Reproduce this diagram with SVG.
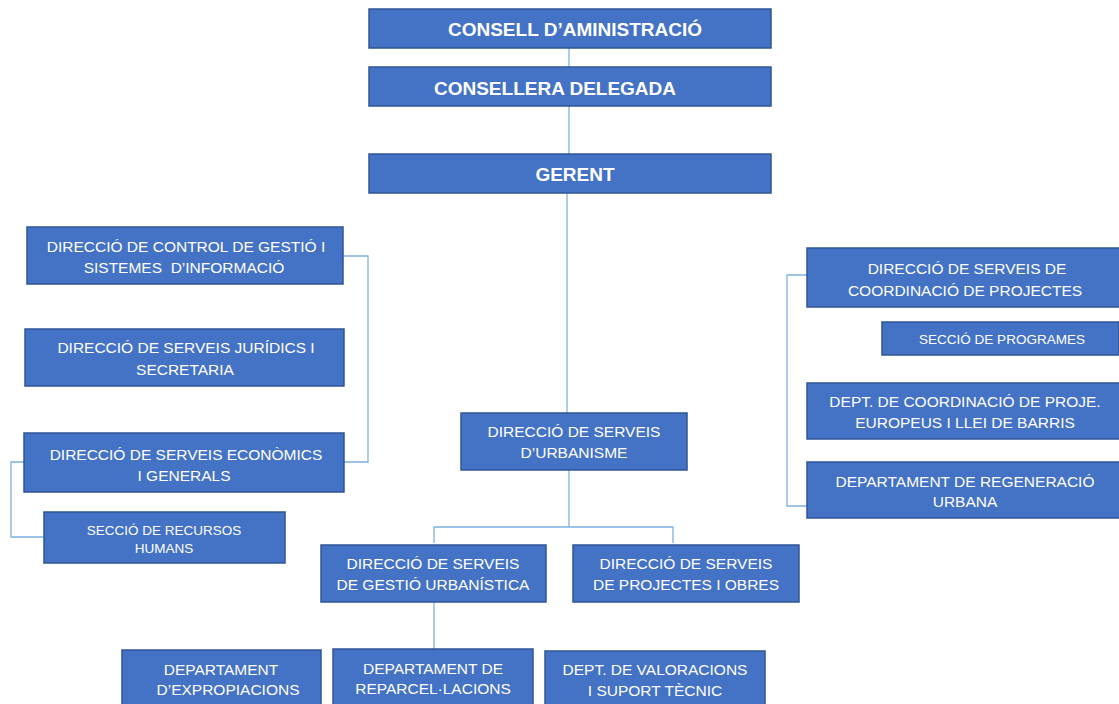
<svg xmlns="http://www.w3.org/2000/svg" width="1119" height="704" viewBox="0 0 1119 704">
<style>
.b{fill:#4472C4;stroke:#2F5597;stroke-width:1.5}
.t{fill:#fff;font-family:"Liberation Sans",Arial,sans-serif;font-size:15.5px;text-anchor:middle}
.h{font-weight:bold;font-size:19px}
.s{font-size:13.5px}
.c{fill:none;stroke:#7EB0E0;stroke-width:1.3}
</style>
<rect width="1119" height="704" fill="#fff"/>
<g id="connectors">
<path class="c" d="M569 48V67"/>
<path class="c" d="M569 106V154"/>
<path class="c" d="M567 193V413"/>
<path class="c" d="M343 256H368V462H344"/>
<path class="c" d="M24 462H11V537H44"/>
<path class="c" d="M807 275H787V506H807"/>
<path class="c" d="M569 470V527"/>
<path class="c" d="M434 543V527H673V543"/>
<path class="c" d="M434 602V649"/>
</g>
<g id="consell"><rect class="b" x="369" y="9" width="402" height="39"/><text class="t h" x="575" y="36">CONSELL D’AMINISTRACIÓ</text></g>
<g id="consellera"><rect class="b" x="369" y="67" width="402" height="39"/><text class="t h" x="555" y="95">CONSELLERA DELEGADA</text></g>
<g id="gerent"><rect class="b" x="369" y="154" width="402" height="39"/><text class="t h" x="575" y="181">GERENT</text></g>
<g id="control"><rect class="b" x="27" y="227" width="316" height="57"/><text class="t" x="186" y="252">DIRECCIÓ DE CONTROL DE GESTIÓ I</text><text class="t" x="184" y="273" xml:space="preserve">SISTEMES  D’INFORMACIÓ</text></g>
<g id="juridics"><rect class="b" x="25" y="329" width="319" height="57"/><text class="t" x="186" y="353">DIRECCIÓ DE SERVEIS JURÍDICS I</text><text class="t" x="185" y="375">SECRETARIA</text></g>
<g id="economics"><rect class="b" x="24" y="433" width="320" height="59"/><text class="t" x="186" y="460">DIRECCIÓ DE SERVEIS ECONÒMICS</text><text class="t" x="184" y="481">I GENERALS</text></g>
<g id="rrhh"><rect class="b" x="44" y="512" width="241" height="51"/><text class="t s" x="164" y="535">SECCIÓ DE RECURSOS</text><text class="t s" x="164" y="553">HUMANS</text></g>
<g id="coordinacio"><rect class="b" x="807" y="248" width="313" height="59"/><text class="t" x="967" y="274">DIRECCIÓ DE SERVEIS DE</text><text class="t" x="965" y="296">COORDINACIÓ DE PROJECTES</text></g>
<g id="programes"><rect class="b" x="882" y="322" width="237" height="33"/><text class="t s" x="1002" y="344">SECCIÓ DE PROGRAMES</text></g>
<g id="europeus"><rect class="b" x="807" y="383" width="313" height="56"/><text class="t" x="965" y="407">DEPT. DE COORDINACIÓ DE PROJE.</text><text class="t" x="965" y="428">EUROPEUS I LLEI DE BARRIS</text></g>
<g id="regeneracio"><rect class="b" x="807" y="462" width="313" height="56"/><text class="t" x="965" y="487">DEPARTAMENT DE REGENERACIÓ</text><text class="t" x="965" y="507">URBANA</text></g>
<g id="urbanisme"><rect class="b" x="461" y="413" width="226" height="57"/><text class="t" x="574" y="437">DIRECCIÓ DE SERVEIS</text><text class="t" x="574" y="458">D’URBANISME</text></g>
<g id="gestio"><rect class="b" x="321" y="545" width="225" height="57"/><text class="t" x="433" y="569">DIRECCIÓ DE SERVEIS</text><text class="t" x="433" y="590">DE GESTIÓ URBANÍSTICA</text></g>
<g id="obres"><rect class="b" x="573" y="545" width="226" height="57"/><text class="t" x="686" y="569">DIRECCIÓ DE SERVEIS</text><text class="t" x="686" y="590">DE PROJECTES I OBRES</text></g>
<g id="expropiacions"><rect class="b" x="122" y="650" width="199" height="56"/><text class="t" x="221" y="675">DEPARTAMENT</text><text class="t" x="228" y="695">D’EXPROPIACIONS</text></g>
<g id="reparcel"><rect class="b" x="333" y="649" width="200" height="57"/><text class="t" x="433" y="674">DEPARTAMENT DE</text><text class="t" x="433" y="694">REPARCEL·LACIONS</text></g>
<g id="valoracions"><rect class="b" x="545" y="651" width="220" height="55"/><text class="t" x="655" y="675">DEPT. DE VALORACIONS</text><text class="t" x="655" y="696">I SUPORT TÈCNIC</text></g>
</svg>
